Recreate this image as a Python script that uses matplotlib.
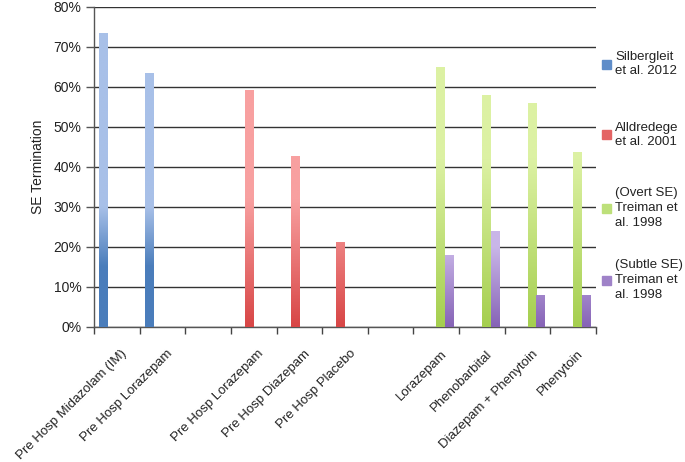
import numpy as np
import matplotlib.pyplot as plt
from matplotlib.colors import LinearSegmentedColormap
from matplotlib.patches import Rectangle
from matplotlib.transforms import ScaledTranslation

plt.rcParams['font.family'] = ['Liberation Sans', 'DejaVu Sans']

categories = ["Pre Hosp Midazolam (IM)", "Pre Hosp Lorazepam", "",
              "Pre Hosp Lorazepam", "Pre Hosp Diazepam", "Pre Hosp Placebo", "",
              "Lorazepam", "Phenobarbital", "Diazepam + Phenytoin", "Phenytoin"]
nan = np.nan
silbergleit = [73.4, 63.4, nan, nan, nan, nan, nan, nan, nan, nan, nan]
alldredge = [nan, nan, nan, 59.1, 42.6, 21.1, nan, nan, nan, nan, nan]
treiman_overt = [nan, nan, nan, nan, nan, nan, nan, 64.9, 58.0, 55.8, 43.6]
treiman_subtle = [nan, nan, nan, nan, nan, nan, nan, 18.0, 23.9, 8.0, 8.0]
series_names = ["Silbergleit\net al. 2012", "Alldredege\net al. 2001",
                "(Overt SE)\nTreiman et\nal. 1998", "(Subtle SE)\nTreiman et\nal. 1998"]

# light (top) / dark (bottom) colours and where the fade happens (in % of axis)
light = ["#a8c0e8", "#f8a0a0", "#dcf1a3", "#c9b6e8"]
dark = ["#4a7dbb", "#d84646", "#a5cf4f", "#8663b6"]
fade = [(15, 30), (0, 32), (0, 42), (0, 20)]
mid = ["#5f8dc9", "#e46464", "#bde07a", "#9f82c8"]

fig = plt.figure(figsize=(6.85, 4.62), dpi=100)
ax = fig.add_axes([94/685, 1-327/462, (596-94)/685, 320/462])

x = np.arange(len(categories))
w = 0.19
all_series = [silbergleit, alldredge, treiman_overt, treiman_subtle]
for k, vals in enumerate(all_series):
    vals = np.array(vals, dtype=float)
    ok = ~np.isnan(vals)
    bars = ax.bar(x[ok] + (k - 1.5) * w, vals[ok], w, color='none', zorder=3)
    cmap = LinearSegmentedColormap.from_list('g%d' % k, [dark[k], light[k]])
    lo, hi = fade[k]
    for b in bars:
        x0, h = b.get_x(), b.get_height()
        yy = np.linspace(h, 0, 200)
        t = np.clip((yy - lo) / (hi - lo), 0, 1)
        ax.imshow(t[:, None], cmap=cmap, vmin=0, vmax=1, aspect='auto',
                  extent=[x0, x0 + w, 0, h], zorder=3, interpolation='bilinear')

ax.set_xlim(-0.5, len(categories) - 0.5)
ax.set_ylim(0, 80)
ax.set_yticks(np.arange(0, 81, 10))
ax.set_yticklabels(['%d%%' % v for v in range(0, 81, 10)], fontsize=10, color='#222222')
ax.yaxis.grid(True, color='#333333', linewidth=1.0)
ax.set_axisbelow(True)
ax.tick_params(axis='y', length=6, width=1, color='#555555', pad=3)

ax.set_xticks(x)
ax.set_xticklabels(categories, rotation=45, ha='right', rotation_mode='anchor',
                   fontsize=9.5, color='#222222')
ax.set_xticks(np.arange(-0.5, len(categories)), minor=True)
ax.tick_params(axis='x', which='major', length=0, pad=15)
ax.tick_params(axis='x', which='minor', length=5, width=1, color='#444444')
off = ScaledTranslation(3/72, 0, fig.dpi_scale_trans)
for lab in ax.get_xticklabels():
    lab.set_transform(lab.get_transform() + off)

for s in ['top', 'right']:
    ax.spines[s].set_visible(False)
for s in ['left', 'bottom']:
    ax.spines[s].set_color('#555555')
    ax.spines[s].set_linewidth(1.0)

ax.set_ylabel('SE Termination', fontsize=10, color='#222222', labelpad=6)

# legend on the right
leg_y = [64, 135, 208, 280]
for k in range(4):
    yc = 1 - leg_y[k] / 462
    fig.add_artist(Rectangle((602/685, yc - 4.5/462), 9/685, 9/462,
                             transform=fig.transFigure, color=mid[k]))
    fig.text(615/685, yc, series_names[k], fontsize=9.5, va='center', ha='left',
             color='#222222', linespacing=1.3)

fig.savefig('out.png', dpi=100)
